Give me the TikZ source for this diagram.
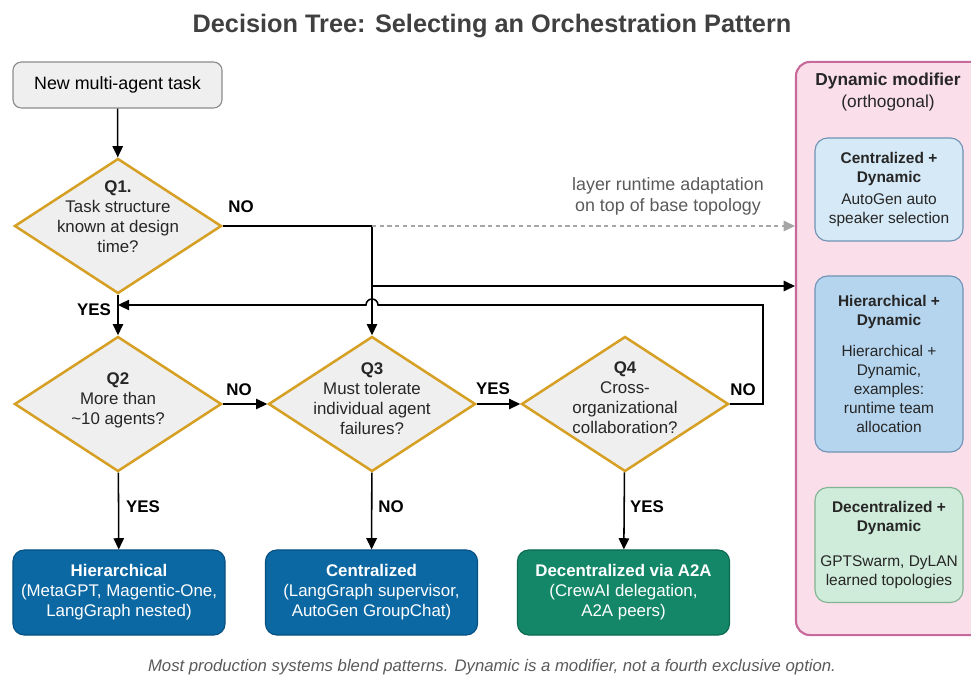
\documentclass[tikz,border=0pt]{standalone}
\usepackage{fontspec}
\setmainfont{Liberation Sans}
\usetikzlibrary{shapes.geometric,arrows.meta,positioning}

\definecolor{qgold}{RGB}{214,160,36}
\definecolor{qfill}{RGB}{239,239,239}
\definecolor{startline}{RGB}{140,140,140}
\definecolor{hierblue}{RGB}{12,104,163}
\definecolor{hierline}{RGB}{8,80,130}
\definecolor{decgreen}{RGB}{20,135,105}
\definecolor{decline}{RGB}{12,105,80}
\definecolor{panelpink}{RGB}{250,222,234}
\definecolor{panelline}{RGB}{200,105,155}
\definecolor{lightblue}{RGB}{214,233,246}
\definecolor{midblue}{RGB}{181,213,239}
\definecolor{blueline}{RGB}{112,147,181}
\definecolor{lightgreen}{RGB}{207,235,217}
\definecolor{greenline}{RGB}{130,179,146}
\definecolor{titlegray}{RGB}{64,64,64}
\definecolor{notegray}{RGB}{90,90,90}

\begin{document}
\begin{tikzpicture}[x=0.025cm, y=-0.025cm,
    body/.style={font=\fontsize{12}{14.3}\selectfont},
    dia/.style={diamond, draw=qgold, line width=1.8pt, fill=qfill, inner sep=0pt,
      minimum width=5.175cm, minimum height=3.375cm},
    qtext/.style={body, align=center, text=black!85},
    outcome/.style={rounded corners=8pt, line width=0.8pt, align=center, text=white,
      minimum width=5.3cm, minimum height=2.125cm, font=\fontsize{12}{14.3}\selectfont},
    dynbox/.style={rounded corners=9pt, line width=0.8pt, align=center, text=black!85,
      minimum width=3.7cm, font=\fontsize{11}{13.5}\selectfont},
    lbl/.style={font=\bfseries\fontsize{12}{14}\selectfont},
    arr/.style={line width=1.1pt, -{Triangle[length=2.8mm,width=2.6mm]}},
    ghost/.style={line width=1pt, gray!70, dash pattern=on 3pt off 2.5pt,
      -{Triangle[length=2.8mm,width=2.6mm]}}]
  \useasboundingbox (0,0) rectangle (971,677);

  % Title
  \node[font=\bfseries\fontsize{18}{21}\selectfont, text=titlegray] (title) at (492,26)
    {Decision Tree: Selecting an Orchestration Pattern};

  % Start and questions
  \node[draw=startline, fill=qfill, rounded corners=6pt, line width=0.8pt,
    minimum width=5.225cm, minimum height=1.15cm, font=\fontsize{12.7}{15}\selectfont]
    (start) at (117.5,85) {New multi-agent task};

  \node[dia] (q1) at (118,226) {};
  \node[qtext] (q1t) at (118,217)
    {\textbf{Q1.}\\Task structure\\known at design\\time?};

  \node[dia] (q2) at (118,404) {};
  \node[qtext] (q2t) at (118,400) {\textbf{Q2}\\More than\\\textasciitilde 10 agents?};

  \node[dia] (q3) at (372,404) {};
  \node[qtext] (q3t) at (372,399)
    {\textbf{Q3}\\Must tolerate\\individual agent\\failures?};

  \node[dia] (q4) at (625,404) {};
  \node[qtext] (q4t) at (625,398)
    {\textbf{Q4}\\Cross-\\organizational\\collaboration?};

  % Outcomes
  \node[outcome, fill=hierblue, draw=hierline] (hier) at (119,592.5)
    {\textbf{Hierarchical}\\(MetaGPT, Magentic-One,\\LangGraph nested)};
  \node[outcome, fill=hierblue, draw=hierline] (cent) at (371.5,592.5)
    {\textbf{Centralized}\\(LangGraph supervisor,\\AutoGen GroupChat)};
  \node[outcome, fill=decgreen, draw=decline] (decent) at (623.5,592.5)
    {\textbf{Decentralized via A2A}\\(CrewAI delegation,\\A2A peers)};

  % Dynamic modifier panel
  \node[draw=panelline, fill=panelpink, rounded corners=10pt, line width=1.5pt,
    minimum width=4.85cm, minimum height=14.325cm] (dyn) at (893,348.5) {};
  \node[align=center, font=\fontsize{12.3}{15}\selectfont, text=black!85] (dyntitle) at (888,92)
    {\textbf{Dynamic modifier}\\(orthogonal)};
  \node[dynbox, fill=lightblue, draw=blueline, minimum height=2.575cm] (dyncent) at (889,189.5)
    {\textbf{Centralized +}\\\textbf{Dynamic}\\[2pt]AutoGen auto\\speaker selection};
  \node[dynbox, fill=midblue, draw=blueline, minimum height=4.4cm] (dynhier) at (889,364)
    {\textbf{Hierarchical +}\\\textbf{Dynamic}\\[8pt]Hierarchical +\\Dynamic,\\examples:\\runtime team\\allocation};
  \node[dynbox, fill=lightgreen, draw=greenline, minimum height=2.875cm] (dyndecent) at (889,545)
    {\textbf{Decentralized +}\\\textbf{Dynamic}\\[11pt]GPTSwarm, DyLAN\\learned topologies};

  % Flow
  \draw[arr] (start) -- (q1);
  \draw[arr] (q1) -- (q2);
  \draw[arr] (q1.east) -| (q3.north);
  \coordinate (split) at (q1.east -| q3.north);
  \coordinate (tap) at (372,286);
  \draw[ghost] (split) -- (split -| dyn.west);
  \draw[arr] (tap) -- (tap -| dyn.west);
  \node[text=notegray, align=center, font=\fontsize{12.7}{15}\selectfont] (adapt) at (668,196)
    {layer runtime adaptation\\on top of base topology};

  \draw[arr] (q2.east) -- (q3.west);
  \draw[arr] (q3.east) -- (q4.west);
  \draw[arr] (q2) -- (hier);
  \draw[arr] (q3) -- (cent);
  \draw[arr] (q4) -- (decent);

  % Loop back from Q4 (hops over the Q3 line)
  \coordinate (loopc) at (763,305);
  \coordinate (hop) at (378,305);
  \coordinate (j1) at (118,305);
  \draw[arr] (q4.east) -| (loopc) -- (hop)
    arc[start angle=0, end angle=180, radius=0.15cm] -- (j1);

  % Branch labels
  \node[lbl] (n1) at (241,207) {NO};
  \node[lbl] (y1) at (94,310) {YES};
  \node[lbl] (n2) at (239,390) {NO};
  \node[lbl] (y3) at (493,389) {YES};
  \node[lbl] (n4) at (743,390) {NO};
  \node[lbl] (y2) at (143,507) {YES};
  \node[lbl] (n3) at (391,507) {NO};
  \node[lbl] (y4) at (647,507) {YES};

  % Footer
  \node[font=\itshape\fontsize{11.9}{14}\selectfont, text=notegray] (foot) at (492,667)
    {Most production systems blend patterns. Dynamic is a modifier, not a fourth exclusive option.};
\end{tikzpicture}
\end{document}
